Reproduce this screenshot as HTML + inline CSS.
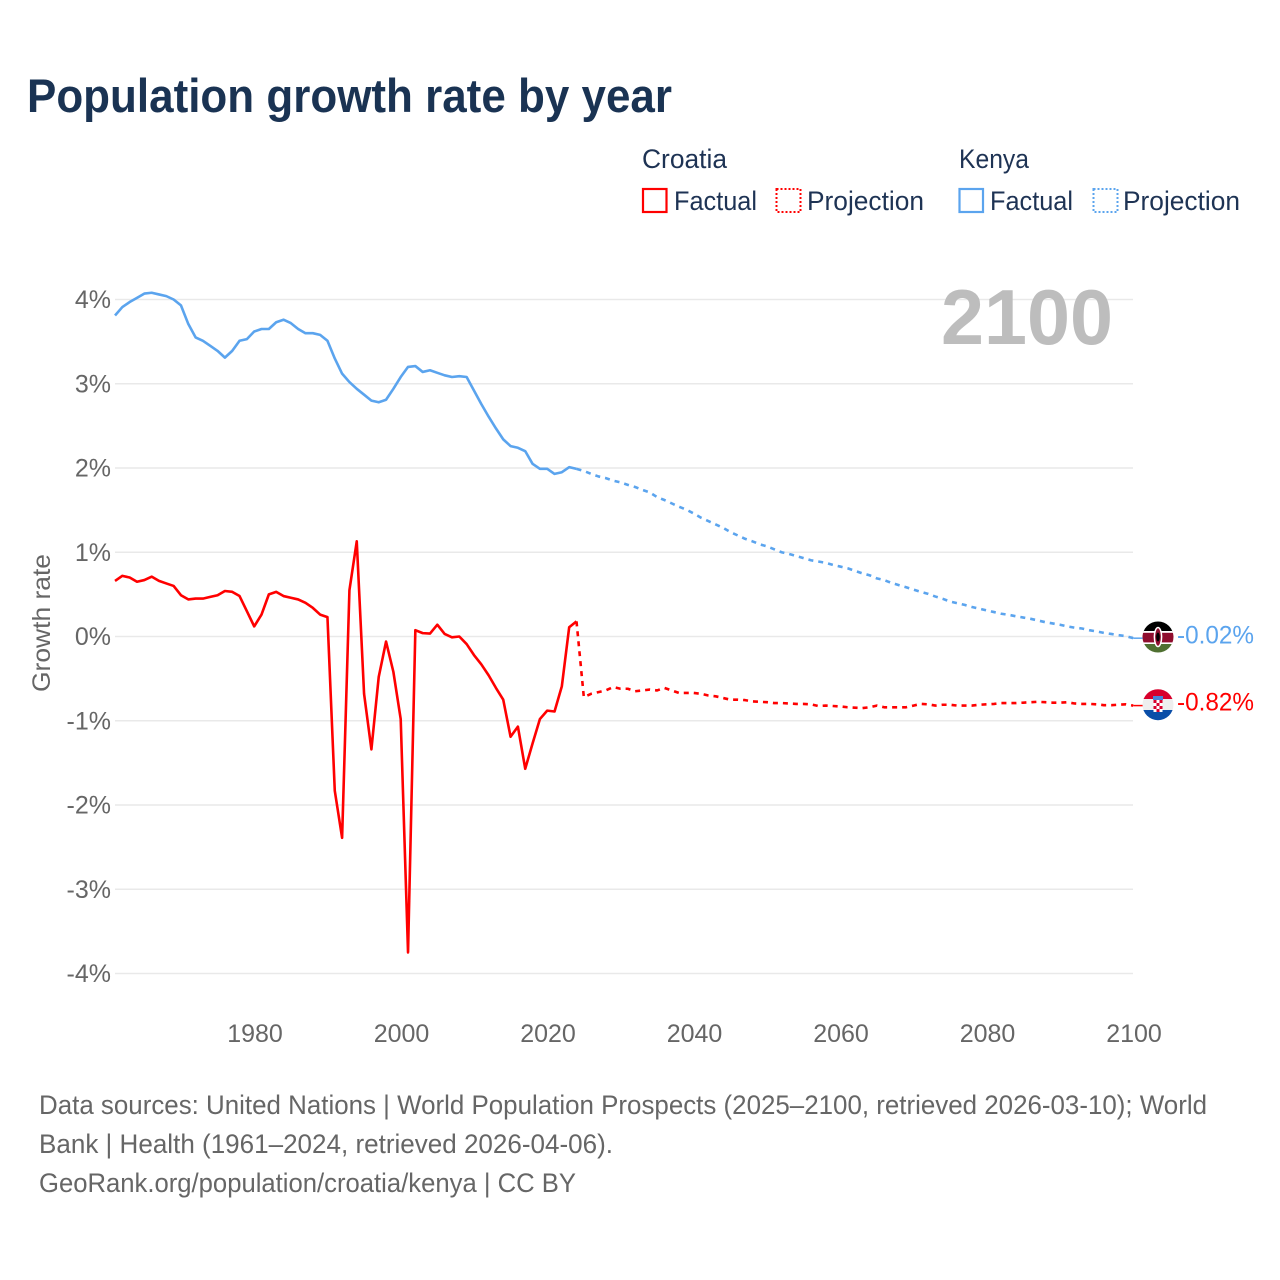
<!DOCTYPE html>
<html lang="en">
<head>
<meta charset="utf-8">
<title>Population growth rate by year</title>
<style>
html,body{margin:0;padding:0;background:#fff;}
svg{display:block;font-family:"Liberation Sans",sans-serif;}
</style>
</head>
<body>
<svg id="chart" xmlns="http://www.w3.org/2000/svg" width="1280" height="1280" viewBox="0 0 1280 1280">
  <defs>
    <clipPath id="clip-kenya"><circle cx="1158" cy="637" r="15.5"/></clipPath>
    <clipPath id="clip-croatia"><circle cx="1158" cy="704.7" r="15.5"/></clipPath>
  </defs>
  <rect x="0" y="0" width="1280" height="1280" fill="#fff"/>
  <text x="27" y="112" font-size="47" font-weight="700" fill="#1a3353" textLength="645" lengthAdjust="spacingAndGlyphs">Population growth rate by year</text>

  <g font-size="27" fill="#1e3354">
    <text x="642" y="168" textLength="85" lengthAdjust="spacingAndGlyphs">Croatia</text>
    <rect x="643" y="189" width="23.500" height="23" fill="none" stroke="#ff0000" stroke-width="2.200"/>
    <text x="674" y="210" textLength="83" lengthAdjust="spacingAndGlyphs">Factual</text>
    <rect x="776.500" y="189" width="24" height="23" fill="none" stroke="#ff0000" stroke-width="2" stroke-dasharray="2 2"/>
    <text x="807" y="210" textLength="117" lengthAdjust="spacingAndGlyphs">Projection</text>
    <text x="959" y="168" textLength="70" lengthAdjust="spacingAndGlyphs">Kenya</text>
    <rect x="959.500" y="189" width="23.500" height="23" fill="none" stroke="#5ba4ee" stroke-width="2.200"/>
    <text x="990" y="210" textLength="83" lengthAdjust="spacingAndGlyphs">Factual</text>
    <rect x="1093.500" y="189" width="24" height="23" fill="none" stroke="#5ba4ee" stroke-width="2" stroke-dasharray="2 2"/>
    <text x="1123" y="210" textLength="117" lengthAdjust="spacingAndGlyphs">Projection</text>
  </g>

  <g id="grid"></g>
  <g id="y-ticks"></g>
  <g id="x-ticks"></g>
  <text transform="translate(50,623) rotate(-90)" text-anchor="middle" font-size="25" fill="#666" textLength="138" lengthAdjust="spacingAndGlyphs">Growth rate</text>
  <text x="941" y="344" font-size="78" font-weight="700" fill="#bdbdbd" textLength="172" lengthAdjust="spacingAndGlyphs">2100</text>

  <g id="series"></g>

  <g clip-path="url(#clip-kenya)">
    <rect x="1142" y="621" width="32" height="11" fill="#000"/>
    <rect x="1142" y="631" width="32" height="13" fill="#fff"/>
    <rect x="1142" y="632.800" width="32" height="9.600" fill="#8f0d2e"/>
    <rect x="1142" y="644" width="32" height="10" fill="#4f7031"/>
    <ellipse cx="1158" cy="637" rx="3.600" ry="9.500" fill="#8f0d2e" stroke="#fff" stroke-width="1.500"/>
    <ellipse cx="1158" cy="637" rx="1.800" ry="4.500" fill="#000"/>
  </g>
  <g clip-path="url(#clip-croatia)">
    <rect x="1142" y="689" width="32" height="10" fill="#d8002c"/>
    <rect x="1142" y="699" width="32" height="11" fill="#eeeeee"/>
    <rect x="1142" y="710" width="32" height="11" fill="#0a4ea8"/>
    <rect x="1153" y="696" width="10" height="4" fill="#4a86d8"/>
    <rect x="1153.500" y="700" width="9" height="12" fill="#fff"/>
    <path d="M1153.500 700h3v3h-3zM1159.500 700h3v3h-3zM1156.500 703h3v3h-3zM1153.500 706h3v3h-3zM1159.500 706h3v3h-3zM1156.500 709h3v3h-3z" fill="#d8002c"/>
  </g>
  <text x="1177" y="643.500" font-size="25" fill="#5ba4ee" textLength="77" lengthAdjust="spacingAndGlyphs">-0.02%</text>
  <text x="1177" y="710.500" font-size="25" fill="#ff0000" textLength="77" lengthAdjust="spacingAndGlyphs">-0.82%</text>

  <g font-size="27" fill="#666">
    <text x="39" y="1114" textLength="1168" lengthAdjust="spacingAndGlyphs">Data sources: United Nations | World Population Prospects (2025–2100, retrieved 2026-03-10); World</text>
    <text x="39" y="1153" textLength="574" lengthAdjust="spacingAndGlyphs">Bank | Health (1961–2024, retrieved 2026-04-06).</text>
    <text x="39" y="1192" textLength="537" lengthAdjust="spacingAndGlyphs">GeoRank.org/population/croatia/kenya | CC BY</text>
  </g>
</svg>
<script>
const firstFactualYear = 1961;
const firstProjectionYear = 2024;
const xTickYears = [1980, 2000, 2020, 2040, 2060, 2080, 2100];
const yTickValues = [4, 3, 2, 1, 0, -1, -2, -3, -4];
const croatiaFactual = [0.66,0.72,0.70,0.65,0.67,0.71,0.66,0.63,0.60,0.49,0.44,0.45,0.45,0.47,0.49,0.54,0.53,0.48,0.30,0.12,0.26,0.50,0.53,0.48,0.46,0.44,0.40,0.34,0.26,0.23,-1.83,-2.39,0.55,1.13,-0.68,-1.34,-0.48,-0.06,-0.42,-0.98,-3.75,0.075,0.04,0.035,0.14,0.03,-0.01,0,-0.09,-0.22,-0.33,-0.46,-0.61,-0.75,-1.19,-1.07,-1.57,-1.27,-0.98,-0.88,-0.89,-0.59,0.11,0.18];
const kenyaFactual = [3.81,3.91,3.97,4.02,4.07,4.08,4.06,4.04,4.00,3.93,3.71,3.55,3.51,3.45,3.39,3.31,3.39,3.51,3.53,3.62,3.65,3.65,3.73,3.76,3.72,3.65,3.60,3.60,3.58,3.51,3.30,3.12,3.02,2.94,2.87,2.80,2.78,2.81,2.94,3.08,3.20,3.21,3.14,3.16,3.13,3.10,3.08,3.09,3.08,2.92,2.76,2.61,2.47,2.34,2.26,2.24,2.20,2.05,1.99,1.99,1.93,1.95,2.01,1.99];
const croatiaProjection = [0.18,-0.72,-0.68,-0.66,-0.64,-0.60,-0.62,-0.62,-0.65,-0.64,-0.63,-0.64,-0.61,-0.64,-0.67,-0.67,-0.67,-0.68,-0.70,-0.71,-0.73,-0.75,-0.75,-0.755,-0.77,-0.775,-0.78,-0.79,-0.79,-0.795,-0.80,-0.80,-0.805,-0.825,-0.82,-0.825,-0.83,-0.84,-0.845,-0.85,-0.84,-0.82,-0.84,-0.84,-0.84,-0.84,-0.82,-0.80,-0.805,-0.82,-0.81,-0.81,-0.82,-0.82,-0.82,-0.81,-0.805,-0.80,-0.79,-0.79,-0.79,-0.785,-0.78,-0.775,-0.78,-0.785,-0.785,-0.78,-0.795,-0.80,-0.80,-0.805,-0.815,-0.815,-0.81,-0.805,-0.82];
const kenyaProjection = [1.99,1.965,1.93,1.90,1.88,1.85,1.83,1.80,1.775,1.74,1.71,1.655,1.62,1.58,1.54,1.505,1.46,1.41,1.37,1.33,1.29,1.24,1.20,1.16,1.13,1.095,1.07,1.035,1.00,0.98,0.955,0.93,0.905,0.89,0.875,0.85,0.83,0.81,0.78,0.75,0.727,0.69,0.67,0.636,0.61,0.585,0.557,0.53,0.506,0.474,0.447,0.415,0.395,0.375,0.35,0.33,0.31,0.29,0.27,0.257,0.24,0.225,0.21,0.19,0.17,0.155,0.14,0.12,0.105,0.095,0.075,0.06,0.043,0.03,0.016,0.005,-0.02];

const SVG_NS = 'http://www.w3.org/2000/svg';
function xScale(year) { return 255 + (year - 1980) * 7.325; }
function xData(year) { return xScale(year) - 0.8; }
function yScale(value) { return 636.5 - value * 84.25; }
function pathFrom(startYear, values) {
  return values.map(function (v, i) {
    return (i ? 'L' : 'M') + xData(startYear + i).toFixed(2) + ' ' + yScale(v).toFixed(2);
  }).join('');
}

const gridGroup = document.getElementById('grid');
const yTickGroup = document.getElementById('y-ticks');
yTickValues.forEach(function (v) {
  const line = document.createElementNS(SVG_NS, 'line');
  
  
  line.setAttribute('x1', 115);
  line.setAttribute('x2', 1133);
  line.setAttribute('y1', yScale(v));
  line.setAttribute('y2', yScale(v));
  line.setAttribute('stroke', '#e9e9e9');
  line.setAttribute('stroke-width', 1.5);
  gridGroup.appendChild(line);
  const label = document.createElementNS(SVG_NS, 'text');
  
  
  label.setAttribute('x', 111);
  label.setAttribute('y', yScale(v) + 8.5);
  label.setAttribute('text-anchor', 'end');
  label.setAttribute('font-size', 25);
  label.setAttribute('fill', '#666');
  label.textContent = v + '%';
  yTickGroup.appendChild(label);
});

const xTickGroup = document.getElementById('x-ticks');
xTickYears.forEach(function (year) {
  const label = document.createElementNS(SVG_NS, 'text');
  
  
  label.setAttribute('x', xScale(year));
  label.setAttribute('y', 1042);
  label.setAttribute('text-anchor', 'middle');
  label.setAttribute('font-size', 25);
  label.setAttribute('fill', '#666');
  label.textContent = year;
  xTickGroup.appendChild(label);
});

const seriesGroup = document.getElementById('series');
function addLine(name, startYear, values, color, dash) {
  const path = document.createElementNS(SVG_NS, 'path');
  
  
  path.setAttribute('d', pathFrom(startYear, values));
  path.setAttribute('fill', 'none');
  path.setAttribute('stroke', color);
  path.setAttribute('stroke-width', 2.6);
  path.setAttribute('stroke-linejoin', 'round');
  if (dash) path.setAttribute('stroke-dasharray', dash);
  seriesGroup.appendChild(path);
}
function addConnector(name, values, color) {
  const line = document.createElementNS(SVG_NS, 'line');
  
  
  line.setAttribute('x1', xData(2100));
  line.setAttribute('x2', 1143);
  line.setAttribute('y1', yScale(values[values.length - 1]));
  line.setAttribute('y2', yScale(values[values.length - 1]));
  line.setAttribute('stroke', color);
  line.setAttribute('stroke-width', 1.5);
  seriesGroup.appendChild(line);
}
addLine('kenya-factual-line', firstFactualYear, kenyaFactual, '#5ba4ee');
addLine('kenya-projection-line', firstProjectionYear, kenyaProjection, '#5ba4ee', '5 5');
addConnector('kenya-flag-connector', kenyaProjection, '#5ba4ee');
addLine('croatia-factual-line', firstFactualYear, croatiaFactual, '#ff0000');
addLine('croatia-projection-line', firstProjectionYear, croatiaProjection, '#ff0000', '5 5');
addConnector('croatia-flag-connector', croatiaProjection, '#ff0000');
</script>
</body>
</html>
